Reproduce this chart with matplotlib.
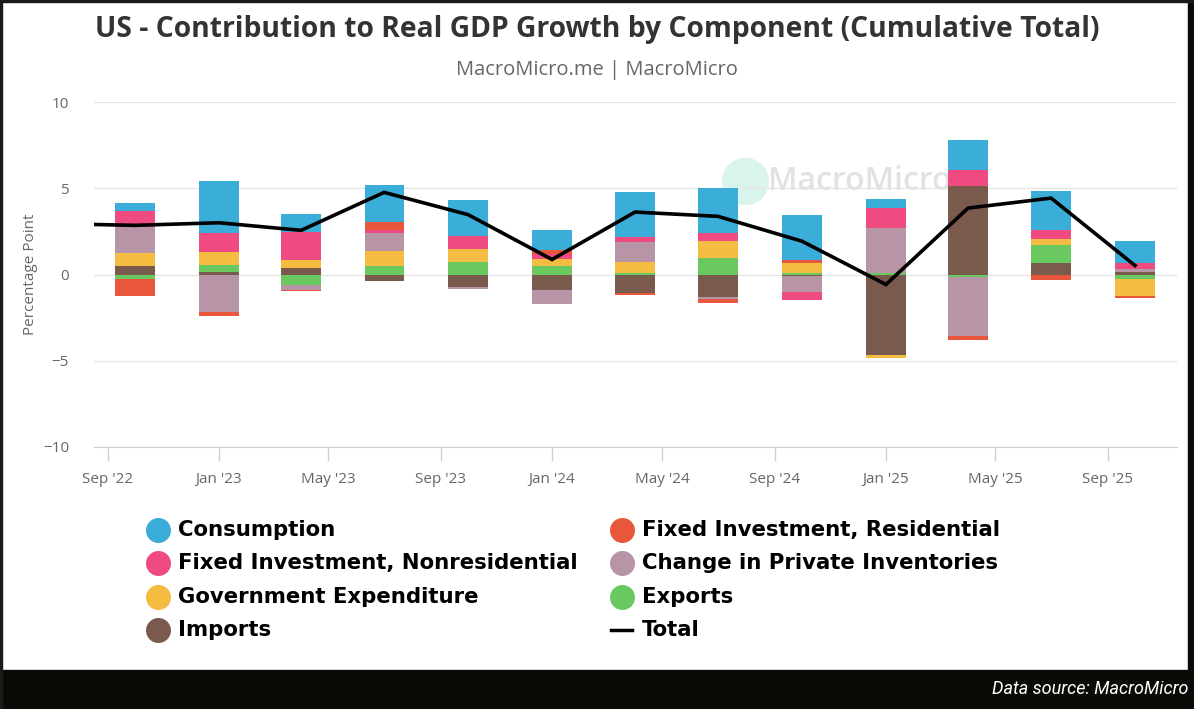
import matplotlib
matplotlib.use("Agg")
import numpy as np
import matplotlib.pyplot as plt
import matplotlib.dates as mdates
from matplotlib.lines import Line2D
from matplotlib.patches import Rectangle

# quarterly contributions (percentage points)
dates = ["2022-10-01", "2023-01-01", "2023-04-01", "2023-07-01", "2023-10-01",
         "2024-01-01", "2024-04-01", "2024-07-01", "2024-10-01", "2025-01-01",
         "2025-04-01", "2025-07-01", "2025-10-01"]
consumption = [0.50, 2.99, 1.00, 2.10, 2.08, 1.20, 2.59, 2.61, 2.61, 0.47, 1.74, 2.29, 1.26]
residential = [-1.00, -0.23, -0.05, 0.48, 0.00, 0.19, -0.06, -0.19, 0.14, 0.00, -0.23, -0.29, -0.12]
nonresidential = [0.89, 1.12, 1.64, 0.19, 0.75, 0.29, 0.31, 0.44, -0.46, 1.18, 0.93, 0.52, 0.35]
inventories = [1.54, -2.16, -0.31, 1.02, -0.12, -0.83, 1.16, -0.15, -0.93, 2.60, -3.43, 0.00, 0.16]
government = [0.73, 0.75, 0.48, 0.87, 0.79, 0.44, 0.62, 0.97, 0.62, -0.19, 0.00, 0.35, -0.97]
exports = [-0.27, 0.41, -0.58, 0.50, 0.71, 0.48, 0.10, 0.97, 0.06, 0.10, -0.12, 1.03, -0.25]
imports = [0.50, 0.15, 0.37, -0.35, -0.71, -0.87, -1.10, -1.29, -0.10, -4.67, 5.12, 0.66, 0.17]

total_dates = ["2022-07-01"] + dates
total = [2.95, 2.85, 3.00, 2.56, 4.76, 3.47, 0.87, 3.62, 3.37, 1.93, -0.58, 3.85, 4.43, 0.52]

names = ["Consumption", "Fixed Investment, Residential", "Fixed Investment, Nonresidential",
         "Change in Private Inventories", "Government Expenditure", "Exports", "Imports"]
series = [consumption, residential, nonresidential, inventories, government, exports, imports]
colors = ["#3aaed8", "#e8573c", "#ef4b80", "#b894a7", "#f4bc40", "#69c860", "#7b5a4e"]

W, H = 1194, 709
fig = plt.figure(figsize=(W / 100, H / 100), dpi=100)
fig.patch.set_facecolor("white")


def fx(x):
    return x / W


def fy(y):
    return 1 - y / H


ax = fig.add_axes([fx(94), fy(447), fx(1177) - fx(94), fy(102) - fy(447)])

x = mdates.date2num(np.array(dates, dtype="datetime64[D]"))
pos = np.zeros(len(x))
neg = np.zeros(len(x))
# stacked outward from zero: last series sits next to the axis
for vals, col in zip(series[::-1], colors[::-1]):
    v = np.array(vals)
    bottom = np.where(v >= 0, pos, neg)
    ax.bar(x, v, width=43, bottom=bottom, color=col, zorder=2, linewidth=0)
    pos += np.where(v >= 0, v, 0)
    neg += np.where(v < 0, v, 0)

xt = mdates.date2num(np.array(total_dates, dtype="datetime64[D]"))
ax.plot(xt, total, color="black", lw=2.6, zorder=4, solid_joinstyle="miter")

ax.set_ylim(-10, 10)
ax.set_xlim(mdates.date2num(np.datetime64("2022-08-17")),
            mdates.date2num(np.datetime64("2025-11-16")))
ax.set_yticks([-10, -5, 0, 5, 10])
ax.yaxis.grid(True, color="#e6e6e6", lw=1)
ax.set_axisbelow(True)
ax.xaxis.set_major_locator(mdates.MonthLocator(bymonth=[1, 5, 9]))
ax.xaxis.set_major_formatter(mdates.DateFormatter("%b '%y"))
for s in ["top", "right", "left"]:
    ax.spines[s].set_visible(False)
ax.spines["bottom"].set_color("#d0d0d0")
ax.tick_params(axis="y", length=0, pad=18, labelsize=11, labelcolor="#666666")
ax.tick_params(axis="x", length=10, width=1, color="#d0d0d0", pad=8,
               labelsize=11, labelcolor="#666666")
for lab in ax.get_xticklabels() + ax.get_yticklabels():
    lab.set_fontfamily("Open Sans")
ax.set_ylabel("Percentage Point", fontsize=11, color="#666666", family="Open Sans")
ax.yaxis.set_label_coords((38 - 94) / (1177 - 94), 0.5)

# watermark
ax.plot([fx(745)], [fy(181)], "o", ms=34, color="#d9f4ec", mec="none",
        transform=fig.transFigure, zorder=0.5, clip_on=False)
ax.text(fx(768), fy(182), "MacroMicro", transform=fig.transFigure, fontsize=23,
        color="#e2e2e2", fontweight="semibold", family="Open Sans",
        va="center", ha="left", zorder=0.5)

fig.text(0.5, fy(30), "US - Contribution to Real GDP Growth by Component (Cumulative Total)",
         ha="center", va="center", fontsize=20.3, fontweight="bold", color="#333333",
         family="Open Sans")
fig.text(0.5, fy(70), "MacroMicro.me | MacroMicro", ha="center", va="center",
         fontsize=14.5, color="#666666", family="Open Sans")

# legend, laid out in two columns like the original
col_x = [158, 622]
row_y = [530, 563, 597, 630]
for i in range(len(names)):
    r, c = i // 2, i % 2
    fig.add_artist(Line2D([fx(col_x[c])], [fy(row_y[r])], marker="o", ms=18,
                          color=colors[i], mec="none", transform=fig.transFigure))
    fig.text(fx(col_x[c] + 20), fy(row_y[r]), names[i], ha="left", va="center",
             fontsize=15.3, fontweight="bold", family="DejaVu Sans", color="black")
fig.add_artist(Line2D([fx(611), fx(632)], [fy(630), fy(630)], color="black", lw=2.5,
                      transform=fig.transFigure))
fig.text(fx(642), fy(630), "Total", ha="left", va="center",
         fontsize=15.3, fontweight="bold", family="DejaVu Sans", color="black")

# dark frame and caption band
fig.add_artist(Rectangle((0, 0), 1, fy(670), color="#0a0a07", transform=fig.transFigure))
fig.add_artist(Rectangle((fx(1188), 0), 1, 1, color="#0a0a07", transform=fig.transFigure))
fig.add_artist(Rectangle((0, 0), fx(2), 1, color="#1a1a1a", transform=fig.transFigure))
fig.add_artist(Rectangle((0, fy(2)), 1, 1, color="#1a1a1a", transform=fig.transFigure))
fig.text(fx(1188), fy(689), "Data source: MacroMicro", ha="right", va="center",
         fontsize=13, style="italic", color="white", family="Roboto")

fig.savefig("out.png", dpi=100)
